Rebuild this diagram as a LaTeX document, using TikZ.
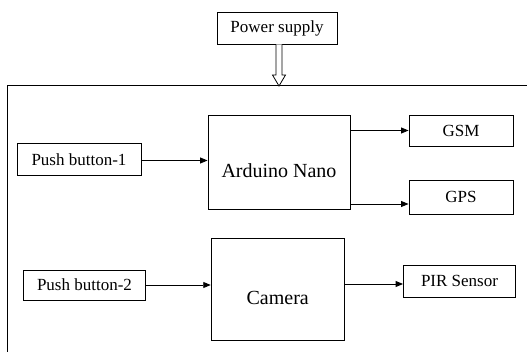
\documentclass[tikz,border=0pt]{standalone}
\usepackage{fontspec}
\setmainfont{Liberation Serif}
\usetikzlibrary{arrows.meta}
\begin{document}
\begin{tikzpicture}[x=1pt,y=-1pt,
  line width=0.9pt,
  blk/.style={draw, rectangle, inner sep=0pt, font=\fontsize{17}{20}\selectfont},
  bigblk/.style={draw, rectangle, inner sep=0pt, font=\fontsize{20}{24}\selectfont},
  arr/.style={-{Triangle[length=7.5pt,width=6pt]}}]
\useasboundingbox (0,0) rectangle (527,352);
\clip (0,0) rectangle (527,352);
% outer frame
\draw (530,85.5) -- (7.5,85.5) -- (7.5,360);
% nodes
\node[blk, minimum width=120, minimum height=32] (ps) at (277,28) {Power supply};
\node[bigblk, minimum width=142, minimum height=94] (ard) at (279,162) {\raisebox{-16pt}[0pt][0pt]{Arduino Nano}};
\node[blk, minimum width=104, minimum height=31] (gsm) at (461,130.5) {GSM};
\node[blk, minimum width=104, minimum height=34] (gps) at (461,197) {GPS};
\node[blk, minimum width=124, minimum height=32] (pb1) at (79,159.5) {Push button-1};
\node[blk, minimum width=122, minimum height=30] (pb2) at (84.5,285) {Push button-2};
\node[bigblk, minimum width=133, minimum height=102] (cam) at (277.7,289) {\raisebox{-15.5pt}[0pt][0pt]{Camera}};
\node[blk, minimum width=112, minimum height=32] (pir) at (459.5,281) {PIR Sensor};
% hollow power arrow
\coordinate (ptop) at ([xshift=2pt]ps.south);
\coordinate (ptip) at (279,86);
\draw[fill=white, line width=0.8pt] ([xshift=-3pt]ptop) -- ([xshift=-3pt,yshift=11pt]ptip)
  -- ([xshift=-6.5pt,yshift=11pt]ptip) -- (ptip) -- ([xshift=6.5pt,yshift=11pt]ptip)
  -- ([xshift=3pt,yshift=11pt]ptip) -- ([xshift=3pt]ptop);
% connectors
\draw[arr] ([yshift=-1pt]pb1.east) -- ([yshift=-1pt]pb1.east -| ard.west);
\draw[arr] (gsm.west -| ard.east) -- (gsm.west);
\draw[arr] ([yshift=-7pt]gps.west -| ard.east) -- ([yshift=-7pt]gps.west);
\draw[arr] (pb2.east) -- (pb2.east -| cam.west);
\draw[arr] ([yshift=-3pt]pir.west -| cam.east) -- ([yshift=-3pt]pir.west);
\end{tikzpicture}
\end{document}
